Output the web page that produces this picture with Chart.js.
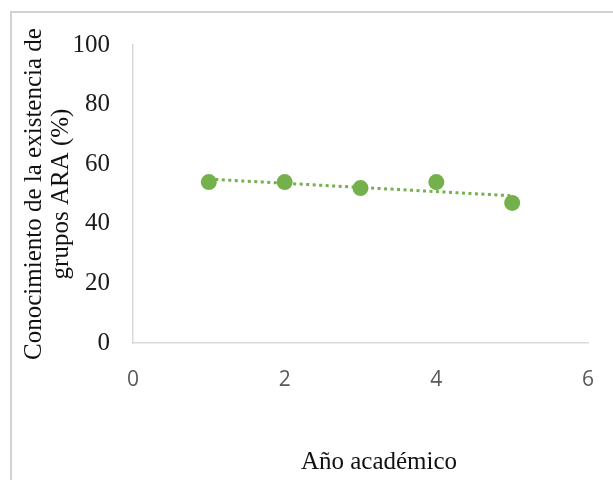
<!DOCTYPE html>
<html>
<head>
<meta charset="utf-8">
<script src="https://cdn.jsdelivr.net/npm/chart.js@4/dist/chart.umd.min.js"></script>
<style>
  html, body { margin: 0; padding: 0; background: #fff; }
  #wrap { position: relative; width: 613px; height: 480px; }
  #c { position: absolute; left: 0; top: 0; }
  #xtitle {
    position: absolute; left: 0; width: 758px; top: 446px;
    text-align: center; font: 25px "Liberation Serif", "Times New Roman", serif; color: #111;
    line-height: 30px;
  }
</style>
</head>
<body>
<div id="wrap">
  <canvas id="c" width="613" height="480"></canvas>
  <div id="xtitle">Año académico</div>
</div>
<script>
// Academic year (x) and share of students aware of ARA groups (%)
const years = [1, 2, 3, 4, 5];
const awareness = [54, 54, 52, 54, 47];
const yTicks = [0, 20, 40, 60, 80, 100];
const xTicks = [0, 2, 4, 6];
const yTitle = ['Conocimiento de la existencia de', 'grupos ARA (%)'];

const green = '#74b14c';

// Least-squares linear trend through the points
const n = years.length;
const mx = years.reduce((a, b) => a + b, 0) / n;
const my = awareness.reduce((a, b) => a + b, 0) / n;
let sxy = 0, sxx = 0;
for (let i = 0; i < n; i++) {
  sxy += (years[i] - mx) * (awareness[i] - my);
  sxx += (years[i] - mx) ** 2;
}
const slope = sxy / sxx;
const intercept = my - slope * mx;
const x0 = Math.min(...years), x1 = Math.max(...years);
const trend = [
  { x: x0, y: intercept + slope * x0 },
  { x: x1, y: intercept + slope * x1 }
];

const frame = {
  id: 'frame',
  beforeDraw(chart) {
    const ctx = chart.ctx;
    ctx.save();
    ctx.fillStyle = '#fff';
    ctx.fillRect(0, 0, chart.width, chart.height);
    ctx.strokeStyle = '#d2d2d2';
    ctx.lineWidth = 2;
    ctx.beginPath();
    ctx.moveTo(11, chart.height);
    ctx.lineTo(11, 12);
    ctx.lineTo(chart.width, 12);
    ctx.stroke();
    ctx.restore();
  }
};

new Chart(document.getElementById('c'), {
  type: 'scatter',
  data: {
    datasets: [
      {
        type: 'line',
        label: 'Tendencia',
        data: trend,
        borderColor: green,
        borderWidth: 3,
        borderDash: [3, 3.5],
        pointRadius: 0,
        fill: false,
        order: 0
      },
      {
        label: 'Conocimiento',
        data: years.map((x, i) => ({ x, y: awareness[i] })),
        backgroundColor: green,
        borderColor: green,
        pointRadius: 8,
        pointHoverRadius: 8,
        borderWidth: 0,
        order: 1
      }
    ]
  },
  options: {
    responsive: false,
    animation: false,
    events: [],
    layout: { padding: { top: 45, left: 0, right: 25, bottom: 0 } },
    plugins: { legend: { display: false }, tooltip: { enabled: false } },
    scales: {
      x: {
        type: 'linear',
        min: 0, max: 6,
        afterBuildTicks(s) { s.ticks = xTicks.map(v => ({ value: v })); },
        afterFit(s) { s.height = 137; s.paddingLeft = 0; s.paddingRight = 0; },
        grid: { display: false, drawTicks: false },
        border: { display: true, color: '#d9d9d9', width: 1.5 },
        ticks: {
          padding: 24,
          color: '#595959',
          font: { family: '"Open Sans", "Liberation Sans", sans-serif', size: 21 }
        }
      },
      y: {
        min: 0, max: 100,
        afterBuildTicks(s) { s.ticks = yTicks.map(v => ({ value: v })); },
        afterFit(s) { s.width = 133; },
        grid: { display: false, drawTicks: false },
        border: { display: true, color: '#d9d9d9', width: 1.5 },
        ticks: {
          padding: 23,
          color: '#1a1a1a',
          font: { family: '"Liberation Serif", "Times New Roman", serif', size: 25 }
        },
        title: {
          display: true,
          text: yTitle,
          color: '#111',
          padding: { top: 21, bottom: 0 },
          font: { family: '"Liberation Serif", "Times New Roman", serif', size: 25, lineHeight: 1.08 }
        }
      }
    }
  },
  plugins: [frame]
});
</script>
</body>
</html>
